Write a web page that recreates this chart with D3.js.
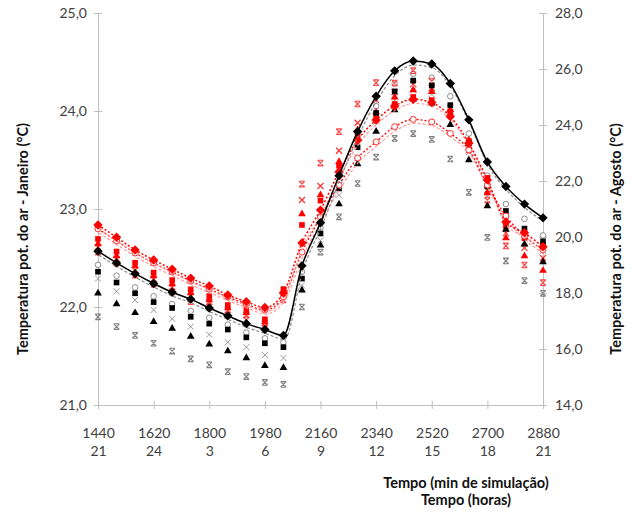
<!DOCTYPE html>
<html>
<head>
<meta charset="utf-8">
<script src="https://cdn.jsdelivr.net/npm/d3@7"></script>
<style>
  body { margin: 0; background: #fff; }
  svg { display: block; font-family: Lato, "Open Sans", sans-serif; }
  .axis path, .axis line { stroke: #bfbfbf; }
  .axis text { fill: #404040; font-size: 14px; font-family: Lato, "Open Sans", sans-serif; }
  .titulo { font-weight: bold; font-size: 14.5px; fill: #111; }
</style>
</head>
<body>
<svg id="chart" width="633" height="513"></svg>
<script>
// eixo x: tempo de simulação (min) e hora do dia
const tempoMin = [1440, 1500, 1560, 1620, 1680, 1740, 1800, 1860, 1920, 1980, 2040, 2100, 2160,
                  2220, 2280, 2340, 2400, 2460, 2520, 2580, 2640, 2700, 2760, 2820, 2880];
const ticksMin = [1440, 1620, 1800, 1980, 2160, 2340, 2520, 2700, 2880];
const ticksHoras = [21, 24, 3, 6, 9, 12, 15, 18, 21];
const ticksJan = [21, 22, 23, 24, 25];
const ticksAgo = [14, 16, 18, 20, 22, 24, 26, 28];

// series em preto (eixo esquerdo - Janeiro)
const janDiamante  = [22.57, 22.45, 22.34, 22.24, 22.15, 22.08, 21.99, 21.91, 21.83, 21.77, 21.71, 22.42, 22.86,
                      23.34, 23.79, 24.15, 24.41, 24.51, 24.48, 24.28, 23.91, 23.48, 23.23, 23.05, 22.91];
const janCirculo   = [22.43, 22.32, 22.20, 22.11, 22.03, 21.96, 21.89, 21.82, 21.74, 21.68, 21.64, 22.36, 22.81,
                      23.28, 23.69, 24.05, 24.28, 24.38, 24.34, 24.15, 23.77, 23.34, 23.05, 22.90, 22.73];
const janQuadrado  = [22.36, 22.25, 22.14, 22.05, 21.99, 21.90, 21.83, 21.77, 21.69, 21.63, 21.59, 22.29, 22.75,
                      23.21, 23.63, 23.98, 24.20, 24.31, 24.26, 24.06, 23.67, 23.23, 22.98, 22.80, 22.67];
const janCruz      = [22.29, 22.16, 22.07, 21.97, 21.88, 21.80, 21.72, 21.64, 21.59, 21.51, 21.48, 22.22, 22.68,
                      23.14, 23.53, 23.89, 24.11, 24.21, 24.17, 23.96, 23.58, 23.13, 22.89, 22.72, 22.57];
const janTriangulo = [22.14, 22.03, 21.94, 21.85, 21.78, 21.70, 21.62, 21.55, 21.48, 21.40, 21.38, 22.17, 22.63,
                      23.05, 23.46, 23.79, 24.01, 24.12, 24.08, 23.86, 23.50, 23.03, 22.79, 22.64, 22.46];
const janEstrela   = [21.90, 21.80, 21.71, 21.63, 21.55, 21.47, 21.41, 21.34, 21.29, 21.23, 21.21, 22.00, 22.56,
                      22.92, 23.26, 23.53, 23.72, 23.77, 23.71, 23.51, 23.17, 22.71, 22.47, 22.27, 22.14];

// series em vermelho (eixo direito - Agosto)
const agoDiamante  = [20.43, 19.99, 19.54, 19.18, 18.85, 18.53, 18.25, 17.93, 17.69, 17.48, 18.00, 19.79, 20.96,
                      22.32, 23.46, 24.18, 24.68, 24.92, 24.80, 24.30, 23.35, 22.04, 20.54, 20.15, 19.65];
const agoCirculo   = [20.29, 19.86, 19.43, 19.07, 18.75, 18.43, 18.14, 17.86, 17.61, 17.39, 17.86, 19.46, 20.71,
                      21.86, 22.82, 23.40, 23.94, 24.20, 24.11, 23.70, 23.11, 21.86, 20.75, 20.04, 19.54];
const agoQuadrado  = [19.93, 19.48, 19.08, 18.73, 18.46, 18.13, 17.89, 17.57, 17.39, 17.06, 18.14, 20.43, 21.30,
                      22.54, 23.64, 24.25, 24.75, 25.00, 24.89, 24.39, 23.43, 22.11, 20.39, 19.96, 19.71];
const agoCruz      = [19.64, 19.21, 18.82, 18.50, 18.21, 17.89, 17.68, 17.39, 17.21, 16.93, 17.93, 21.32, 21.82,
                      23.08, 24.08, 24.89, 25.18, 25.46, 25.32, 24.46, 23.25, 21.68, 20.14, 19.61, 19.25];
const agoTriangulo = [19.75, 19.32, 18.96, 18.61, 18.32, 18.00, 17.75, 17.46, 17.29, 16.96, 18.04, 20.82, 21.50,
                      22.69, 23.82, 24.46, 24.99, 25.25, 25.19, 24.54, 23.46, 21.57, 19.96, 19.32, 18.80];
const agoEstrela   = [19.46, 19.07, 18.64, 18.32, 18.04, 17.69, 17.50, 17.21, 17.04, 16.75, 17.75, 21.89, 22.64,
                      23.76, 24.75, 25.51, 25.50, 25.94, 25.57, 24.61, 23.11, 21.32, 19.68, 19.00, 18.37];

const svg = d3.select('#chart');

const x = d3.scaleLinear().domain([1440, 2880]).range([98, 543]);
const yJan = d3.scaleLinear().domain([21, 25]).range([405, 13]);
const yAgo = d3.scaleLinear().domain([14, 28]).range([405, 13]);

const fmt = d3.formatLocale({ decimal: ',', thousands: '.', grouping: [3], currency: ['', ''] }).format('.1f');

// eixos
const eixoEsq = svg.append('g').attr('class', 'axis').attr('transform', 'translate(98,0)')
    .call(d3.axisLeft(yJan).tickValues(ticksJan).tickSize(4).tickSizeOuter(0).tickPadding(7).tickFormat(fmt));
eixoEsq.selectAll('.tick line').attr('x1', 4);

const eixoDir = svg.append('g').attr('class', 'axis').attr('transform', 'translate(543,0)')
    .call(d3.axisRight(yAgo).tickValues(ticksAgo).tickSize(4).tickSizeOuter(0).tickPadding(8).tickFormat(fmt));
eixoDir.selectAll('.tick line').attr('x1', -4);

const eixoX = svg.append('g').attr('class', 'axis').attr('transform', 'translate(0,405)')
    .call(d3.axisBottom(x).tickValues(ticksMin).tickSize(4).tickSizeOuter(0).tickPadding(19).tickFormat(d => d));
eixoX.selectAll('.tick line').attr('y1', -4);

const eixoHoras = svg.append('g').attr('class', 'axis').attr('transform', 'translate(0,427)')
    .call(d3.axisBottom(x).tickValues(ticksMin).tickSize(0).tickPadding(19)
        .tickFormat((d, i) => ticksHoras[i]));
eixoHoras.select('.domain').remove();

// marcadores
const marcadorX = r => `M${-r},${-r}L${r},${r}M${-r},${r}L${r},${-r}`;
const marcadorEstrela = r => marcadorX(r) + `M${-r},${-r}H${r}M${-r},${r}H${r}`;

function pontos(dados, escala, desenho) {
  const g = svg.append('g');
  dados.forEach((v, i) => {
    desenho(g.append('g').attr('transform', `translate(${x(tempoMin[i])},${escala(v)})`));
  });
}

function linha(dados, escala, cor, largura, tracejado, sombra) {
  const gerador = d3.line()
      .x((d, i) => x(tempoMin[i]))
      .y(d => escala(d))
      .curve(d3.curveMonotoneX);
  svg.append('path').datum(dados)
      .attr('d', gerador)
      .attr('transform', 'translate(1,4)')
      .attr('fill', 'none')
      .attr('stroke', sombra)
      .attr('stroke-width', 1.2)
      .attr('stroke-dasharray', '3,2');
  svg.append('path').datum(dados)
      .attr('d', gerador)
      .attr('fill', 'none')
      .attr('stroke', cor)
      .attr('stroke-width', largura)
      .attr('stroke-dasharray', tracejado);
}

const quadrado = d3.symbol().type(d3.symbolSquare).size(32);
const triangulo = d3.symbol().type(d3.symbolTriangle).size(26);
const losango = d3.symbol().type(d3.symbolSquare).size(44);

// cinzas
pontos(janEstrela, yJan, g => g.append('path').attr('d', marcadorEstrela(2.8))
    .attr('fill', 'none').attr('stroke', '#7f7f7f').attr('stroke-width', 1.1));
pontos(janCruz, yJan, g => g.append('path').attr('d', marcadorX(3))
    .attr('fill', 'none').attr('stroke', '#999').attr('stroke-width', 1));
pontos(janCirculo, yJan, g => g.append('circle').attr('r', 2.8)
    .attr('fill', '#fff').attr('stroke', '#8c8c8c').attr('stroke-width', 1));

// vermelhos dispersos
pontos(agoEstrela, yAgo, g => g.append('path').attr('d', marcadorEstrela(2.8))
    .attr('fill', 'none').attr('stroke', '#ff4040').attr('stroke-width', 1.1));
pontos(agoCruz, yAgo, g => g.append('path').attr('d', marcadorX(3))
    .attr('fill', 'none').attr('stroke', '#ff3030').attr('stroke-width', 1.2));
pontos(agoTriangulo, yAgo, g => g.append('path').attr('d', triangulo).attr('fill', '#ff0000'));
pontos(agoQuadrado, yAgo, g => g.append('path').attr('d', quadrado).attr('fill', '#ff0000'));

// pretos dispersos
pontos(janTriangulo, yJan, g => g.append('path').attr('d', triangulo).attr('fill', '#000'));
pontos(janQuadrado, yJan, g => g.append('path').attr('d', quadrado).attr('fill', '#000'));

// linhas vermelhas
linha(agoCirculo, yAgo, '#ff0000', 1.3, '2,2', '#ff9a9a');
pontos(agoCirculo, yAgo, g => g.append('circle').attr('r', 3)
    .attr('fill', '#fff').attr('stroke', '#ff3030').attr('stroke-width', 1));
linha(agoDiamante, yAgo, '#ff0000', 1.5, '2,2', '#ff9a9a');
pontos(agoDiamante, yAgo, g => g.append('path').attr('d', losango)
    .attr('transform', 'rotate(45)').attr('fill', '#ff0000'));

// linha preta
linha(janDiamante, yJan, '#000', 1.5, null, '#8c8c8c');
pontos(janDiamante, yJan, g => g.append('path').attr('d', losango)
    .attr('transform', 'rotate(45)').attr('fill', '#000'));

// títulos
svg.append('text').attr('class', 'titulo')
    .attr('transform', 'translate(28,239) rotate(-90)')
    .attr('text-anchor', 'middle')
    .text('Temperatura  pot. do ar - Janeiro (°C)');
svg.append('text').attr('class', 'titulo')
    .attr('transform', 'translate(621,239) rotate(-90)')
    .attr('text-anchor', 'middle')
    .text('Temperatura pot. do ar - Agosto (°C)');
svg.append('text').attr('class', 'titulo')
    .attr('x', 466).attr('y', 488).attr('text-anchor', 'middle')
    .text('Tempo (min de simulação)');
svg.append('text').attr('class', 'titulo')
    .attr('x', 466).attr('y', 505).attr('text-anchor', 'middle')
    .text('Tempo (horas)');
</script>
</body>
</html>
